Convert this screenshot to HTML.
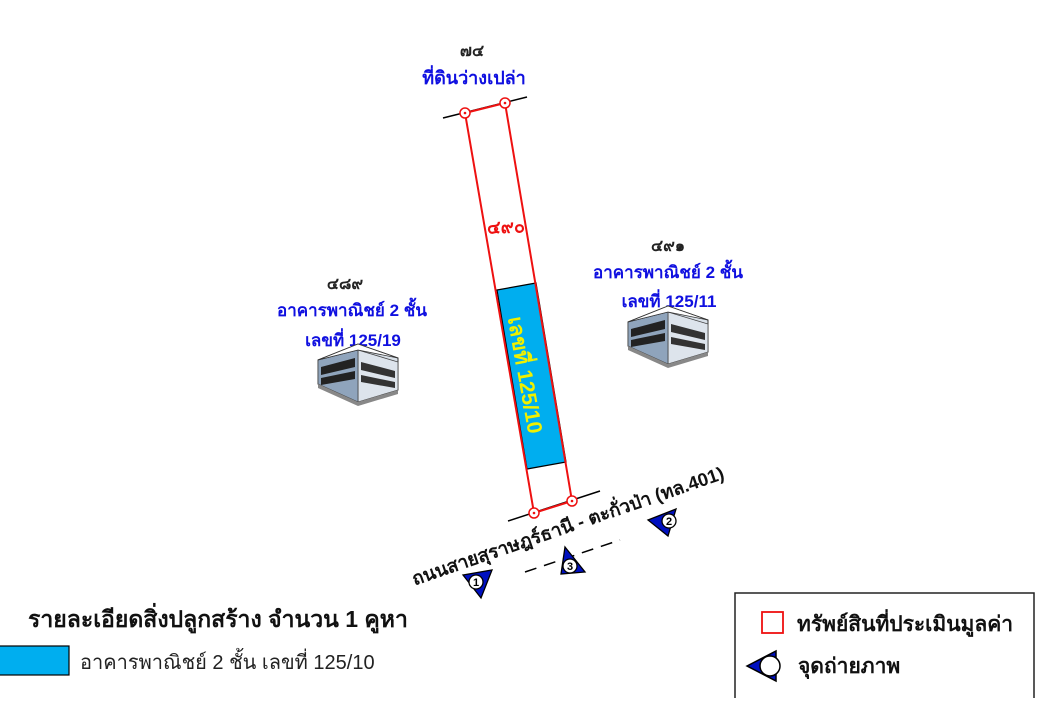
<!DOCTYPE html>
<html><head><meta charset="utf-8"><style>
html,body{margin:0;padding:0;background:#fff;width:1040px;height:720px;overflow:hidden}
svg{display:block}
text{font-family:"Liberation Sans","DejaVu Sans",sans-serif;font-weight:bold}
</style></head><body>
<svg width="1040" height="720" viewBox="0 0 1040 720" xmlns="http://www.w3.org/2000/svg">
<defs>
<g id="bld">
  <polygon points="0,20 40,4 80,18 80,50 40,62 0,44" fill="#d8e0e8" stroke="#333" stroke-width="1"/>
  <polygon points="40,10 80,22 80,50 40,62" fill="#dde4ec" stroke="#444" stroke-width="0.8"/>
  <polygon points="0,20 40,10 40,62 0,44" fill="#8fa4bc" stroke="#444" stroke-width="0.8"/>
  <polygon points="3,27 37,18 37,27 3,35" fill="#222"/>
  <polygon points="3,38 37,31 37,39 3,45" fill="#222"/>
  <polygon points="43,22 77,31 77,38 43,30" fill="#333"/>
  <polygon points="43,35 77,42 77,48 43,42" fill="#333"/>
  <polygon points="0,20 40,4 80,18 40,10" fill="#ffffff" stroke="#333" stroke-width="0.8"/>
  <polygon points="0,44 40,62 80,50 80,54 40,66 0,48" fill="#888"/>
</g>
</defs>

<text x="472" y="56" font-size="16" text-anchor="middle" fill="#222">๗๔</text>
<text x="474" y="84" font-size="18" text-anchor="middle" fill="#1010e0">ที่ดินว่างเปล่า</text>

<line x1="443" y1="118" x2="527" y2="97" stroke="#000" stroke-width="1.5"/>
<line x1="508" y1="521" x2="600" y2="491" stroke="#000" stroke-width="1.5"/>

<polygon points="497,290 536,283 566,462 527,469" fill="#00aeef" stroke="#000" stroke-width="1.2"/>
<polygon points="465,113 505,103 572,501 534,513" fill="none" stroke="#ee1111" stroke-width="2"/>
<g fill="#fff" stroke="#ee1111" stroke-width="1.5">
<circle cx="465" cy="113" r="5"/><circle cx="505" cy="103" r="5"/>
<circle cx="534" cy="513" r="5"/><circle cx="572" cy="501" r="5"/>
</g>
<g fill="#ee1111"><circle cx="465" cy="113" r="1.3"/><circle cx="505" cy="103" r="1.3"/><circle cx="534" cy="513" r="1.3"/><circle cx="572" cy="501" r="1.3"/></g>

<text x="506" y="233" font-size="18" text-anchor="middle" fill="#ee1111" transform="rotate(-2 506 228)">๔๙๐</text>
<text x="0" y="0" font-size="21" text-anchor="middle" fill="#f0f000" transform="translate(525,375) rotate(80)" dy="7">เลขที่ 125/10</text>

<text x="345" y="289" font-size="16" text-anchor="middle" fill="#222">๔๘๙</text>
<text x="352" y="316" font-size="17" text-anchor="middle" fill="#1010e0">อาคารพาณิชย์ 2 ชั้น</text>
<text x="353" y="346" font-size="17" text-anchor="middle" fill="#1010e0">เลขที่ 125/19</text>
<use href="#bld" transform="translate(318,340)"/>

<text x="668" y="251" font-size="16" text-anchor="middle" fill="#222">๔๙๑</text>
<text x="668" y="278" font-size="17" text-anchor="middle" fill="#1010e0">อาคารพาณิชย์ 2 ชั้น</text>
<text x="669" y="307" font-size="17" text-anchor="middle" fill="#1010e0">เลขที่ 125/11</text>
<use href="#bld" transform="translate(628,302)"/>

<text x="0" y="0" font-size="18.5" text-anchor="middle" fill="#111" transform="translate(570,532) rotate(-19)">ถนนสายสุราษฎร์ธานี - ตะกั่วป่า (ทล.401)</text>
<line x1="525" y1="572" x2="620" y2="540" stroke="#000" stroke-width="1.5" stroke-dasharray="12,8"/>

<polygon points="463,575 492,570 481,598" fill="#0010c0" stroke="#000" stroke-width="1.3"/>
<circle cx="476" cy="582" r="7" fill="#fff" stroke="#000" stroke-width="1.3"/>
<text x="476" y="586" font-size="11" text-anchor="middle" fill="#000">1</text>
<polygon points="648,520 676,509 668,536" fill="#0010c0" stroke="#000" stroke-width="1.3"/>
<circle cx="669" cy="521" r="7" fill="#fff" stroke="#000" stroke-width="1.3"/>
<text x="669" y="525" font-size="11" text-anchor="middle" fill="#000">2</text>
<polygon points="565,547 585,572 561,574" fill="#0010c0" stroke="#000" stroke-width="1.3"/>
<circle cx="570" cy="566" r="7" fill="#fff" stroke="#000" stroke-width="1.3"/>
<text x="570" y="570" font-size="11" text-anchor="middle" fill="#000">3</text>

<text x="28" y="627" font-size="23" fill="#111">รายละเอียดสิ่งปลูกสร้าง จำนวน 1 คูหา</text>
<rect x="-1" y="646" width="70" height="29" fill="#00aeef" stroke="#000" stroke-width="1.2"/>
<text x="80" y="669" font-size="20" fill="#222" style="font-weight:normal">อาคารพาณิชย์ 2 ชั้น เลขที่ 125/10</text>

<polyline points="735,698 735,593 1034,593 1034,698" fill="none" stroke="#222" stroke-width="1.5"/>
<rect x="762" y="612" width="21" height="21" fill="#fff" stroke="#ee1111" stroke-width="1.8"/>
<text x="797" y="631" font-size="21" fill="#111">ทรัพย์สินที่ประเมินมูลค่า</text>
<polygon points="747,666 776,651 776,681" fill="#0010c0" stroke="#000" stroke-width="1.5"/>
<circle cx="770" cy="666" r="10" fill="#fff" stroke="#000" stroke-width="1.5"/>
<text x="798" y="673" font-size="21" fill="#111">จุดถ่ายภาพ</text>
</svg>
</body></html>
